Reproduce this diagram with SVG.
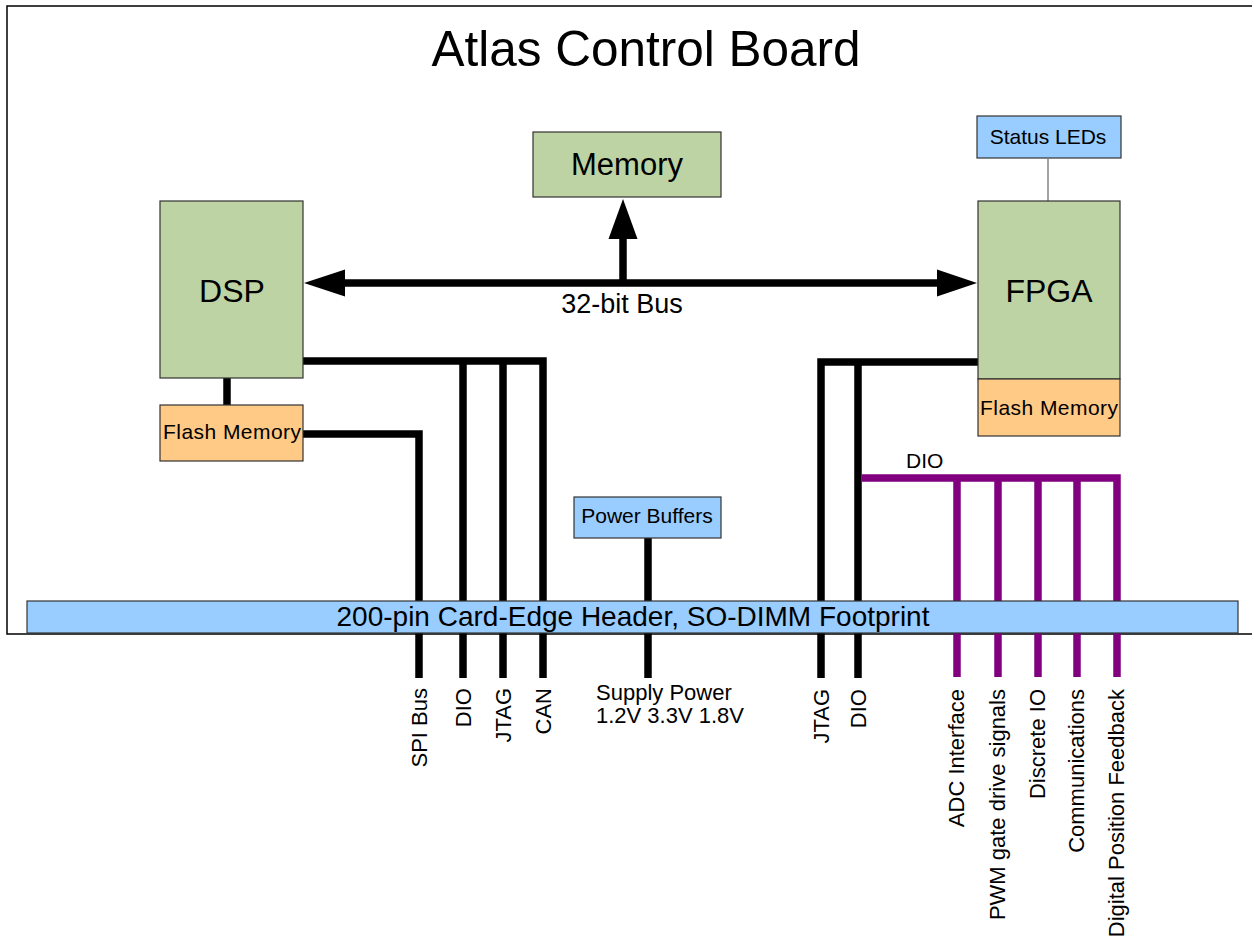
<svg xmlns="http://www.w3.org/2000/svg" width="1252" height="943" viewBox="0 0 1252 943">
<style>
text{font-family:"Liberation Sans",Arial,sans-serif;fill:#000}
.box{stroke:#333;stroke-width:1.2}
.green{fill:#bdd3a4}
.orange{fill:#ffc986}
.blue{fill:#99ccff}
.w{fill:none;stroke:#000;stroke-width:7.5;stroke-linecap:butt;stroke-linejoin:miter}
.p{fill:none;stroke:#800080;stroke-width:7.5;stroke-linejoin:miter}
.lbl{font-size:22px}
.rot{font-size:22px;text-anchor:end}
.c{text-anchor:middle}
</style>
<rect width="1252" height="943" fill="#fff"/>
<path d="M1260,6 H7 V634 H1260" fill="none" stroke="#000" stroke-width="1.5"/>
<text x="646" y="66" class="c" font-size="49.5">Atlas Control Board</text>

<g id="connectors">
  <!-- 32-bit bus -->
  <line x1="343" y1="283" x2="939" y2="283" class="w"/>
  <polygon points="304,283 345,269.5 345,296.5" fill="#000"/>
  <polygon points="977,283 937,269.5 937,296.5" fill="#000"/>
  <line x1="623" y1="283" x2="623" y2="237" class="w"/>
  <polygon points="623,199 608.5,239 637.5,239" fill="#000"/>
  <!-- DSP to flash -->
  <line x1="227" y1="378" x2="227" y2="405" class="w"/>
  <!-- DSP buses -->
  <path d="M303,361 H543 V678" class="w"/>
  <line x1="463" y1="361" x2="463" y2="678" class="w"/>
  <line x1="503" y1="361" x2="503" y2="678" class="w"/>
  <!-- SPI -->
  <path d="M303,434 H419 V678" class="w"/>
  <!-- Power -->
  <line x1="648" y1="538" x2="648" y2="678" class="w"/>
  <!-- FPGA -->
  <path d="M978,362 H821 V678" class="w"/>
  <line x1="858" y1="362" x2="858" y2="678" class="w"/>
  <!-- DIO purple -->
  <path d="M862,478 H1117 V677" class="p"/>
  <line x1="957" y1="478" x2="957" y2="677" class="p"/>
  <line x1="998" y1="478" x2="998" y2="677" class="p"/>
  <line x1="1038" y1="478" x2="1038" y2="677" class="p"/>
  <line x1="1077" y1="478" x2="1077" y2="677" class="p"/>
  <!-- Status LEDs -->
  <line x1="1048" y1="159" x2="1048" y2="201" stroke="#666" stroke-width="1.2"/>
  <text x="622" y="313" class="c" font-size="27">32-bit Bus</text>
  <text x="906" y="468" font-size="21">DIO</text>
</g>

<g id="memory">
  <rect x="533" y="132" width="188" height="65" class="box green"/>
  <text x="627" y="175" class="c" font-size="31">Memory</text>
</g>
<g id="dsp">
  <rect x="160" y="201" width="143" height="177" class="box green"/>
  <text x="232" y="302" class="c" font-size="32">DSP</text>
</g>
<g id="dsp-flash">
  <rect x="160" y="405" width="143" height="56" class="box orange"/>
  <text x="232" y="439" class="c" font-size="21" textLength="138" lengthAdjust="spacing">Flash Memory</text>
</g>
<g id="fpga">
  <rect x="978" y="201" width="142" height="178" class="box green"/>
  <text x="1049" y="302" class="c" font-size="32">FPGA</text>
</g>
<g id="fpga-flash">
  <rect x="978" y="379" width="142" height="57" class="box orange"/>
  <text x="1049" y="415" class="c" font-size="21" textLength="138" lengthAdjust="spacing">Flash Memory</text>
</g>
<g id="status-leds">
  <rect x="977" y="116" width="144" height="42" class="box blue"/>
  <text x="1048" y="144" class="c" font-size="21">Status LEDs</text>
</g>
<g id="power-buffers">
  <rect x="574" y="497" width="147" height="41" class="box blue"/>
  <text x="647" y="523" class="c" font-size="21">Power Buffers</text>
</g>
<g id="header">
  <rect x="27" y="601" width="1211" height="32" class="box blue"/>
  <text x="633" y="626" class="c" font-size="28">200-pin Card-Edge Header, SO-DIMM Footprint</text>
</g>

<g id="labels">
  <text class="rot" transform="translate(427,688) rotate(-90)">SPI Bus</text>
  <text class="rot" transform="translate(471,688) rotate(-90)">DIO</text>
  <text class="rot" transform="translate(511,688) rotate(-90)">JTAG</text>
  <text class="rot" transform="translate(551,688) rotate(-90)">CAN</text>
  <text x="596" y="700" class="lbl">Supply Power</text>
  <text x="596" y="723" class="lbl">1.2V 3.3V 1.8V</text>
  <text class="rot" transform="translate(829,689) rotate(-90)">JTAG</text>
  <text class="rot" transform="translate(866,689) rotate(-90)">DIO</text>
  <text class="rot" transform="translate(964,689) rotate(-90)">ADC Interface</text>
  <text class="rot" transform="translate(1005,689) rotate(-90)">PWM gate drive signals</text>
  <text class="rot" transform="translate(1045,689) rotate(-90)">Discrete IO</text>
  <text class="rot" transform="translate(1084,689) rotate(-90)">Communications</text>
  <text class="rot" transform="translate(1124,689) rotate(-90)">Digital Position Feedback</text>
</g>
</svg>
